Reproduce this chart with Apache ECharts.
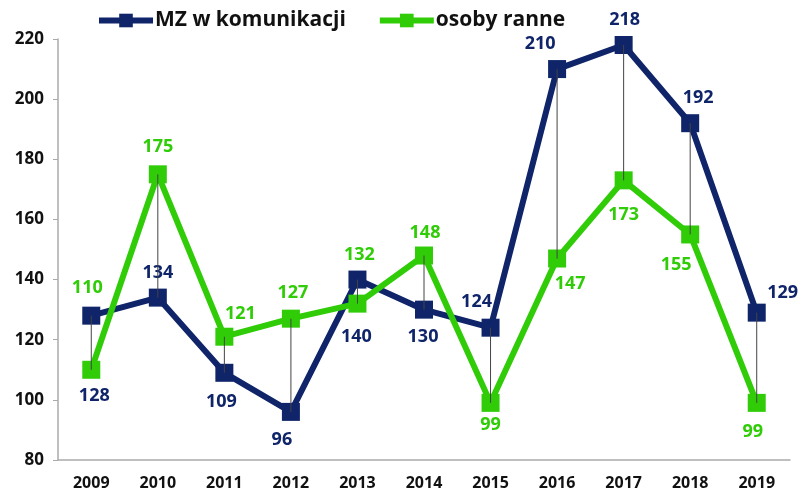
<!DOCTYPE html>
<html>
<head>
<meta charset="utf-8">
<script src="https://cdn.jsdelivr.net/npm/echarts@6/dist/echarts.min.js"></script>
<style>
  html, body { margin: 0; padding: 0; background: #fff; }
  #chart { width: 803px; height: 491px; }
</style>
</head>
<body>
<div id="chart"></div>
<script>
var years = ["2009", "2010", "2011", "2012", "2013", "2014", "2015", "2016", "2017", "2018", "2019"];
var mzValues = [128, 134, 109, 96, 140, 130, 124, 210, 218, 192, 129];
var ranneValues = [110, 175, 121, 127, 132, 148, 99, 147, 173, 155, 99];
// label offsets (from the marker centre), as placed in the original
var mzLabelOffsets = [[3, 80], [0, -25], [-3, 29], [-9, 28], [-1, 57], [-1, 27], [-14, -26], [-17, -25], [1, -25], [8, -25], [26, -20]];
var ranneLabelOffsets = [[-4, -82], [0, -27], [16, -23], [2, -26], [2, -49], [1, -23], [0, 22], [13, 25], [0, 35], [-14, 30], [-4, 29]];

var NAVY = "#0f2469";
var GREEN = "#30cc08";
var FONT = "Open Sans";

function labelled(values, offsets, color) {
  return values.map(function (v, i) {
    return {
      value: v,
      label: {
        show: true,
        position: "inside",
        offset: offsets[i],
        color: color,
        fontFamily: FONT,
        fontWeight: "bold",
        fontSize: 18,
      },
    };
  });
}

var chart = echarts.init(document.getElementById("chart"));
chart.setOption({
  backgroundColor: "#fff",
  animation: false,
  textStyle: { fontFamily: FONT },
  legend: {
    left: 91,
    top: 5,
    itemWidth: 54,
    itemHeight: 17,
    itemGap: 31,
    lineStyle: { width: 6 },
    textStyle: { fontFamily: FONT, fontWeight: "bold", fontSize: 21, color: "#111", padding: [0, 0, 0, -3] },
    data: ["MZ w komunikacji", "osoby ranne"],
  },
  grid: { left: 58, right: 13, top: 39, bottom: 31 },
  xAxis: {
    type: "category",
    data: years,
    axisLine: { lineStyle: { color: "#aaa", width: 1.5 } },
    axisTick: { show: false },
    axisLabel: { color: "#111", fontFamily: FONT, fontWeight: "bold", fontSize: 16, margin: 15 },
  },
  yAxis: {
    type: "value",
    min: 80,
    max: 220,
    interval: 20,
    splitLine: { show: false },
    axisLine: { show: true, lineStyle: { color: "#aaa", width: 1.5 } },
    axisTick: { show: true, length: 5, lineStyle: { color: "#aaa" } },
    axisLabel: { color: "#111", fontFamily: FONT, fontWeight: "bold", fontSize: 17, margin: 14 },
  },
  series: [
    {
      name: "MZ w komunikacji",
      type: "line",
      symbol: "rect",
      symbolSize: 18,
      color: NAVY,
      lineStyle: { width: 6, color: NAVY },
      itemStyle: { color: NAVY },
      z: 2,
      data: labelled(mzValues, mzLabelOffsets, NAVY),
    },
    {
      name: "osoby ranne",
      type: "line",
      symbol: "rect",
      symbolSize: 18,
      color: GREEN,
      lineStyle: { width: 6, color: GREEN },
      itemStyle: { color: GREEN },
      z: 3,
      data: labelled(ranneValues, ranneLabelOffsets, GREEN),
    },
    {
      // high-low lines between the two series
      type: "custom",
      z: 4,
      silent: true,
      data: years.map(function (y, i) { return [i, mzValues[i], ranneValues[i]]; }),
      renderItem: function (params, api) {
        var a = api.coord([api.value(0), api.value(1)]);
        var b = api.coord([api.value(0), api.value(2)]);
        return {
          type: "line",
          shape: { x1: a[0], y1: a[1], x2: b[0], y2: b[1] },
          style: { stroke: "#444", lineWidth: 1 },
        };
      },
    },
  ],
});
</script>
</body>
</html>
